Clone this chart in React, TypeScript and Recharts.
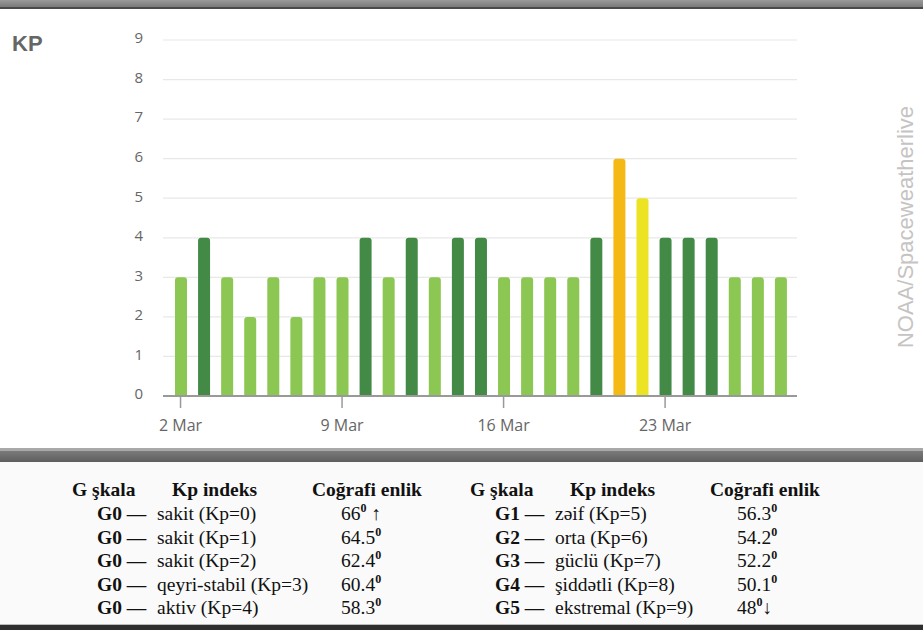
import { BarChart, Bar, XAxis, YAxis, CartesianGrid, Cell } from "recharts";

const days = [
  "2 Mar", "3 Mar", "4 Mar", "5 Mar", "6 Mar", "7 Mar", "8 Mar", "9 Mar", "10 Mar",
  "11 Mar", "12 Mar", "13 Mar", "14 Mar", "15 Mar", "16 Mar", "17 Mar", "18 Mar", "19 Mar",
  "20 Mar", "21 Mar", "22 Mar", "23 Mar", "24 Mar", "25 Mar", "26 Mar", "27 Mar", "28 Mar",
];
const kpValues = [3, 4, 3, 2, 3, 2, 3, 3, 4, 3, 4, 3, 4, 4, 3, 3, 3, 3, 4, 6, 5, 4, 4, 4, 3, 3, 3];
const yTicks = [0, 1, 2, 3, 4, 5, 6, 7, 8, 9];

// G-scale legend table (two halves)
const tableHeader = ["G şkala", "Kp indeks", "Coğrafi enlik"];
const leftScale = ["G0 —", "G0 —", "G0 —", "G0 —", "G0 —"];
const leftDesc = ["sakit (Kp=0)", "sakit (Kp=1)", "sakit (Kp=2)", "qeyri-stabil (Kp=3)", "aktiv (Kp=4)"];
const leftLat = ["66", "64.5", "62.4", "60.4", "58.3"];
const leftArrow = [" ↑", "", "", "", ""];
const rightScale = ["G1 —", "G2 —", "G3 —", "G4 —", "G5 —"];
const rightDesc = ["zəif (Kp=5)", "orta (Kp=6)", "güclü (Kp=7)", "şiddətli (Kp=8)", "ekstremal (Kp=9)"];
const rightLat = ["56.3", "54.2", "52.2", "50.1", "48"];
const rightArrow = ["", "", "", "", "↓"];

const data = days.map((d, i) => ({ day: d, kp: kpValues[i] }));

function kpColor(v: number) {
  if (v >= 6) return "#f5b916";
  if (v === 5) return "#ece322";
  if (v === 4) return "#428a46";
  return "#8cc653";
}

const serif = "Liberation Serif";
const sans = "'Open Sans', 'Noto Sans', sans-serif";

const rowBase = [520, 543.5, 567, 590.5, 614];

function TableHalf({ dx, scale, desc, lat, arrow, latX }: {
  dx: number; scale: string[]; desc: string[]; lat: string[]; arrow: string[]; latX: number;
}) {
  return (
    <g fontFamily={serif} fontSize={19.5} fill="#111">
      <text x={72 + dx} y={496} fontWeight={700}>{tableHeader[0]}</text>
      <text x={172 + dx} y={496} fontWeight={700}>{tableHeader[1]}</text>
      <text x={312 + dx} y={496} fontWeight={700}>{tableHeader[2]}</text>
      {scale.map((s, i) => (
        <g key={i}>
          <text x={97 + dx} y={rowBase[i]} fontWeight={700}>{s}</text>
          <text x={157 + dx} y={rowBase[i]}>{desc[i]}</text>
          <text x={latX} y={rowBase[i]}>
            {lat[i]}
            <tspan dy={-8} fontSize={12} fontWeight={700}>0</tspan>
            <tspan dy={8}>{arrow[i]}</tspan>
          </text>
        </g>
      ))}
    </g>
  );
}

export default function App() {
  return (
    <div style={{ position: "absolute", left: 0, top: 0, width: 923, height: 630, background: "#fff", overflow: "hidden" }}>
      {/* top frame strip */}
      <div style={{ position: "absolute", left: 0, top: 0, width: 923, height: 7, background: "linear-gradient(#9a9a9a, #7a7a7a)" }} />
      <div style={{ position: "absolute", left: 0, top: 7, width: 923, height: 2, background: "#4a4a4a" }} />

      <div style={{ position: "absolute", left: 12, top: 31, fontFamily: "'Liberation Sans', Arial, sans-serif", fontWeight: 700, fontSize: 22, color: "#666" }}>
        KP
      </div>

      <div style={{ position: "absolute", left: 0, top: 0 }}>
        <BarChart width={923} height={450} data={data} margin={{ top: 40, right: 126, bottom: 24, left: 103 }}>
          <CartesianGrid vertical={false} stroke="#e8e8e8" strokeWidth={1.2} />
          <XAxis
            dataKey="day"
            interval={6}
            height={30}
            padding={{ left: 6, right: 5 }}
            axisLine={{ stroke: "#999", strokeWidth: 2 }}
            tickLine={{ stroke: "#999", strokeWidth: 1.5 }}
            tickSize={12}
            tickMargin={12}
            tick={{ fill: "#666", fontSize: 16, fontFamily: sans }}
          />
          <YAxis
            domain={[0, 9]}
            ticks={yTicks}
            width={60}
            axisLine={false}
            tickLine={false}
            tickSize={0}
            tickMargin={20}
            tick={{ fill: "#666", fontSize: 15, fontFamily: sans, dy: -2 }}
          />
          <Bar dataKey="kp" barSize={12} radius={[3, 3, 0, 0]} isAnimationActive={false}>
            {data.map((d, i) => (
              <Cell key={i} fill={kpColor(d.kp)} />
            ))}
          </Bar>
        </BarChart>
      </div>

      {/* source watermark */}
      <div
        style={{
          position: "absolute", left: 906, top: 227, transform: "translate(-50%, -50%) rotate(-90deg)",
          whiteSpace: "nowrap", fontFamily: "'Liberation Sans', Arial, sans-serif", fontSize: 22, color: "#c6c3c3",
        }}
      >
        NOAA/Spaceweatherlive
      </div>

      {/* separator */}
      <div style={{ position: "absolute", left: 0, top: 448, width: 923, height: 3, background: "#a8a8a8" }} />
      <div style={{ position: "absolute", left: 0, top: 451, width: 923, height: 11, background: "linear-gradient(#7a7a7a, #5e5e5e)" }} />
      <div style={{ position: "absolute", left: 0, top: 462, width: 923, height: 163, background: "#fafafa" }} />
      <div style={{ position: "absolute", left: 0, top: 624, width: 923, height: 1, background: "#bbb" }} />
      <div style={{ position: "absolute", left: 0, top: 625, width: 923, height: 5, background: "#2e2e2e" }} />

      <svg width={923} height={630} style={{ position: "absolute", left: 0, top: 0 }}>
        <TableHalf dx={0} scale={leftScale} desc={leftDesc} lat={leftLat} arrow={leftArrow} latX={341} />
        <TableHalf dx={398} scale={rightScale} desc={rightDesc} lat={rightLat} arrow={rightArrow} latX={737} />
      </svg>
    </div>
  );
}
